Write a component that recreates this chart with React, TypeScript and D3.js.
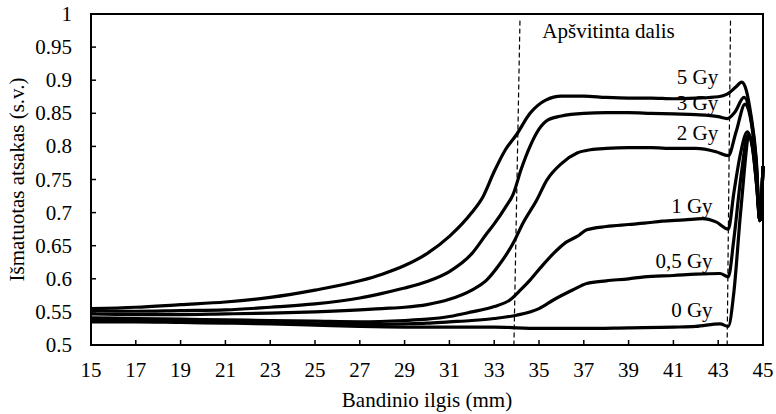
import React from "react";
import * as d3 from "d3";

const xTicks = [15, 17, 19, 21, 23, 25, 27, 29, 31, 33, 35, 37, 39, 41, 43, 45];
const yTicks = [0.5, 0.55, 0.6, 0.65, 0.7, 0.75, 0.8, 0.85, 0.9, 0.95, 1];
const yTickLabels = ["0.5", "0.55", "0.6", "0.65", "0.7", "0.75", "0.8", "0.85", "0.9", "0.95", "1"];

const x5 = [15,17,19,21,23,25,27,28,29,30,31,32,32.5,33,33.5,34,34.6,35.3,36,37,38,39,40,41,42,43,43.4,43.8,44.05,44.25,44.45,44.7,44.86,45];
const y5 = [0.555,0.557,0.561,0.565,0.572,0.583,0.597,0.607,0.620,0.638,0.664,0.700,0.724,0.762,0.795,0.818,0.850,0.870,0.876,0.876,0.874,0.873,0.873,0.872,0.873,0.875,0.879,0.890,0.897,0.885,0.850,0.780,0.688,0.77];

const x3 = [15,17,19,21,23,25,27,28,29,30,31,32,32.66,33,33.5,33.85,34.2,34.6,35,35.4,36,37,38,39,40,41,42,43,43.4,43.75,44.15,44.45,44.7,44.86,45];
const y3 = [0.552,0.551,0.552,0.553,0.557,0.562,0.571,0.578,0.586,0.596,0.611,0.638,0.668,0.683,0.708,0.728,0.765,0.800,0.826,0.840,0.846,0.850,0.851,0.851,0.850,0.849,0.848,0.845,0.842,0.852,0.874,0.845,0.775,0.688,0.77];

const x2 = [15,17,19,21,23,25,27,28,29,30,31,32,32.66,33.2,33.85,34.3,34.9,35.35,36,36.7,37.3,38,39,40,41,42,42.9,43.45,43.8,44.2,44.48,44.7,44.86,45];
const y2 = [0.547,0.546,0.546,0.547,0.548,0.550,0.553,0.555,0.557,0.561,0.569,0.583,0.598,0.620,0.654,0.685,0.719,0.749,0.774,0.790,0.795,0.797,0.798,0.798,0.797,0.797,0.792,0.786,0.822,0.864,0.835,0.770,0.688,0.77];

const x1 = [15,17,19,21,23,25,27,29,30,31,32,33,33.7,34.2,34.6,35.1,35.64,36.2,36.7,37.13,38,39,39.7,40.5,41.5,42.3,42.9,43.45,43.7,44,44.3,44.52,44.72,44.86,45];
const y1 = [0.541,0.540,0.539,0.538,0.537,0.536,0.535,0.537,0.539,0.543,0.550,0.558,0.568,0.584,0.598,0.618,0.638,0.655,0.664,0.674,0.679,0.682,0.684,0.687,0.689,0.691,0.686,0.675,0.730,0.790,0.822,0.800,0.740,0.688,0.77];

const x05 = [15,17,19,21,23,25,27,29,30,31,32,33,34,35,35.64,36.5,37.13,38,39,39.7,41,42,43.08,43.45,43.7,44,44.35,44.55,44.72,44.86,45];
const y05 = [0.537,0.537,0.536,0.535,0.534,0.532,0.531,0.532,0.533,0.535,0.537,0.540,0.545,0.555,0.568,0.583,0.593,0.597,0.600,0.603,0.605,0.607,0.608,0.603,0.660,0.750,0.818,0.795,0.740,0.688,0.77];

const x0 = [15,17,19,21,23,25,27,29,31,33,35,37,39,41,42,43.08,43.45,43.7,44,44.4,44.6,44.75,44.86,45];
const y0 = [0.535,0.535,0.534,0.533,0.532,0.530,0.528,0.527,0.527,0.527,0.525,0.525,0.526,0.527,0.528,0.532,0.528,0.580,0.700,0.815,0.785,0.730,0.688,0.77];

const seriesNames = ["5 Gy", "3 Gy", "2 Gy", "1 Gy", "0,5 Gy", "0 Gy"];
const seriesX = [x5, x3, x2, x1, x05, x0];
const seriesY = [y5, y3, y2, y1, y05, y0];
// label anchor (x value at right end of text, y value of baseline)
const labelX = [43.0, 43.0, 43.0, 42.75, 42.75, 42.75];
const labelY = [0.894, 0.855, 0.809, 0.70, 0.617, 0.542];

const dashTopX = [34.15, 43.55];
const dashBottomX = [33.88, 43.4];
const dashTopY = 0.99;
const annotation = "Apšvitinta dalis";
const annotationX = 35.15;
const annotationY = 0.964;
const xTitle = "Bandinio ilgis (mm)";
const yTitle = "Išmatuotas atsakas (s.v.)";

export default function App() {
  const W = 776, H = 414;
  const left = 91, right = 763, top = 14, bottom = 345;
  const x = d3.scaleLinear().domain([15, 45]).range([left, right]);
  const y = d3.scaleLinear().domain([0.5, 1]).range([bottom, top]);
  const font = '"Liberation Serif", "Times New Roman", "DejaVu Serif", serif';
  const fs = 21;
  const ts = { fontFamily: font, fontSize: fs } as React.CSSProperties;

  const line = d3
    .line<[number, number]>()
    .x((d) => x(d[0]))
    .y((d) => y(d[1]))
    .curve(d3.curveMonotoneX);

  return (
    <svg
      width={W}
      height={H}
      style={{ position: "absolute", left: 0, top: 0, background: "#fff" }}
    >
      <rect x={0} y={0} width={W} height={H} fill="#fff" />
      {seriesNames.map((n, i) => (
        <text key={n} x={x(labelX[i])} y={y(labelY[i])} style={ts} textAnchor="end" fill="#000">
          {n}
        </text>
      ))}
      <text x={x(annotationX)} y={y(annotationY)} style={ts} textAnchor="start" fill="#000">
        {annotation}
      </text>
      {dashTopX.map((d, i) => (
        <line
          key={i}
          x1={x(d)}
          y1={y(dashTopY)}
          x2={x(dashBottomX[i])}
          y2={y(0.5)}
          stroke="#000"
          strokeWidth={1.2}
          strokeDasharray="5,3"
        />
      ))}
      {seriesNames.map((n, i) => (
        <path
          key={n}
          d={line(seriesX[i].map((v, j) => [v, seriesY[i][j]] as [number, number])) || ""}
          fill="none"
          stroke="#000"
          strokeWidth={3.2}
          strokeLinejoin="round"
        />
      ))}
      <rect x={left} y={top} width={right - left} height={bottom - top} fill="none" stroke="#000" strokeWidth={2} />
      {xTicks.map((t) => (
        <g key={t}>
          <line x1={x(t)} x2={x(t)} y1={bottom} y2={bottom - 5} stroke="#000" strokeWidth={1.5} />
          <text x={x(t)} y={377} style={ts} textAnchor="middle" fill="#000">
            {t}
          </text>
        </g>
      ))}
      {yTicks.map((t, i) => (
        <g key={t}>
          <line x1={left} x2={left + 5} y1={y(t)} y2={y(t)} stroke="#000" strokeWidth={1.5} />
          <text x={72} y={y(t) + 7} style={ts} textAnchor="end" fill="#000">
            {yTickLabels[i]}
          </text>
        </g>
      ))}
      <text x={(left + right) / 2} y={407} style={ts} textAnchor="middle" fill="#000">
        {xTitle}
      </text>
      <text
        transform={`translate(24,${(top + bottom) / 2}) rotate(-90)`}
        style={ts}
        textAnchor="middle"
        fill="#000"
      >
        {yTitle}
      </text>
    </svg>
  );
}
